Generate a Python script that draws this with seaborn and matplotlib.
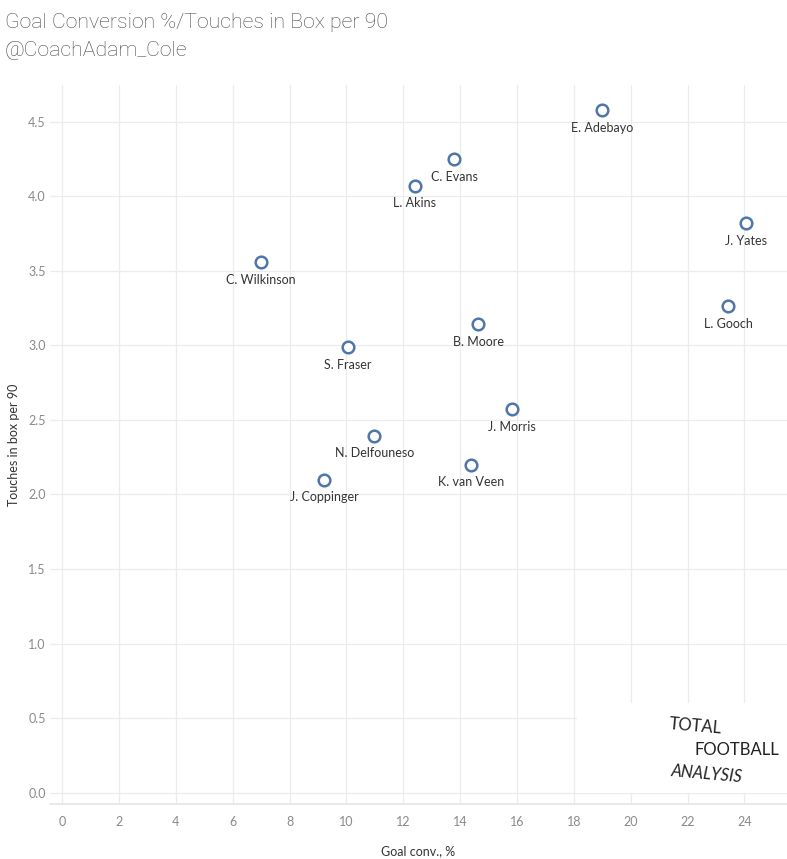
import matplotlib
matplotlib.use("Agg")
import matplotlib.pyplot as plt
import seaborn as sns
import pandas as pd
from matplotlib.patches import Rectangle

players = ["E. Adebayo", "C. Evans", "L. Akins", "J. Yates", "C. Wilkinson", "L. Gooch",
           "B. Moore", "S. Fraser", "J. Morris", "N. Delfouneso", "K. van Veen", "J. Coppinger"]
goal_conv = [19.0, 13.8, 12.4, 24.07, 7.0, 23.43, 14.64, 10.06, 15.83, 10.98, 14.39, 9.22]
touches = [4.575, 4.25, 4.07, 3.82, 3.56, 3.265, 3.14, 2.99, 2.57, 2.395, 2.20, 2.10]
x_ticks = list(range(0, 25, 2))
y_ticks = [0.0, 0.5, 1.0, 1.5, 2.0, 2.5, 3.0, 3.5, 4.0, 4.5]

df = pd.DataFrame({"player": players, "conv": goal_conv, "touches": touches})

sns.set_theme(style="white")
plt.rcParams['font.family'] = ['Lato', 'DejaVu Sans']

fig = plt.figure(figsize=(7.87, 8.59), dpi=100)
ax = fig.add_axes([50/787, (859-804)/859, (787-50)/787, (804-85)/859])

sns.scatterplot(data=df, x="conv", y="touches", ax=ax, s=70, facecolor="white",
                edgecolor="#4f76a8", linewidth=1.8, zorder=3)
for p, xv, yv in zip(players, goal_conv, touches):
    ax.annotate(p, (xv, yv), xytext=(0, -8.5), textcoords="offset points",
                ha="center", va="top", fontsize=9, color="#333333", zorder=4)

ax.set_xlim(-0.43, 25.5)
ax.set_ylim(-0.075, 4.745)
ax.set_xticks(x_ticks)
ax.set_yticks(y_ticks)
ax.set_yticklabels([f"{v:.1f}" for v in y_ticks])
ax.grid(True, color="#ececec", linewidth=0.9)
ax.set_axisbelow(True)
for s in ["top", "right", "left"]:
    ax.spines[s].set_visible(False)
ax.spines["bottom"].set_color("#e6e6e6")
ax.tick_params(axis="both", colors="#8a8a8a", labelsize=9, length=0)
ax.tick_params(axis="x", pad=9)
ax.tick_params(axis="y", pad=3)
ax.set_xlabel("Goal conv., %", fontsize=9, color="#333333", labelpad=12)
ax.set_ylabel("Touches in box per 90", fontsize=9, color="#333333", labelpad=6)

# logo area
ax.add_patch(Rectangle((18.1, 0.0), 8.0, 0.60, facecolor="white", edgecolor="none", zorder=2))
fig.text(668/787, 1-726/859, "TOTAL", fontsize=12, color="#222222", ha="left", va="center",
         rotation=-5, zorder=5)
fig.text(694/787, 1-750/859, "FOOTBALL", fontsize=12, color="#222222", ha="left", va="center",
         zorder=5)
fig.text(670/787, 1-774/859, "ANALYSIS", fontsize=12, color="#222222", ha="left", va="center",
         rotation=-5, zorder=5, style="italic")

fig.text(5/787, 1-23/859, "Goal Conversion %/Touches in Box per 90", fontsize=15.3,
         color="#4a4a4a", ha="left", va="center", family="Roboto", weight="light")
fig.text(5/787, 1-50/859, "@CoachAdam_Cole", fontsize=15.3, color="#4a4a4a",
         ha="left", va="center", family="Roboto", weight="light")

fig.savefig("out.png", dpi=100)
